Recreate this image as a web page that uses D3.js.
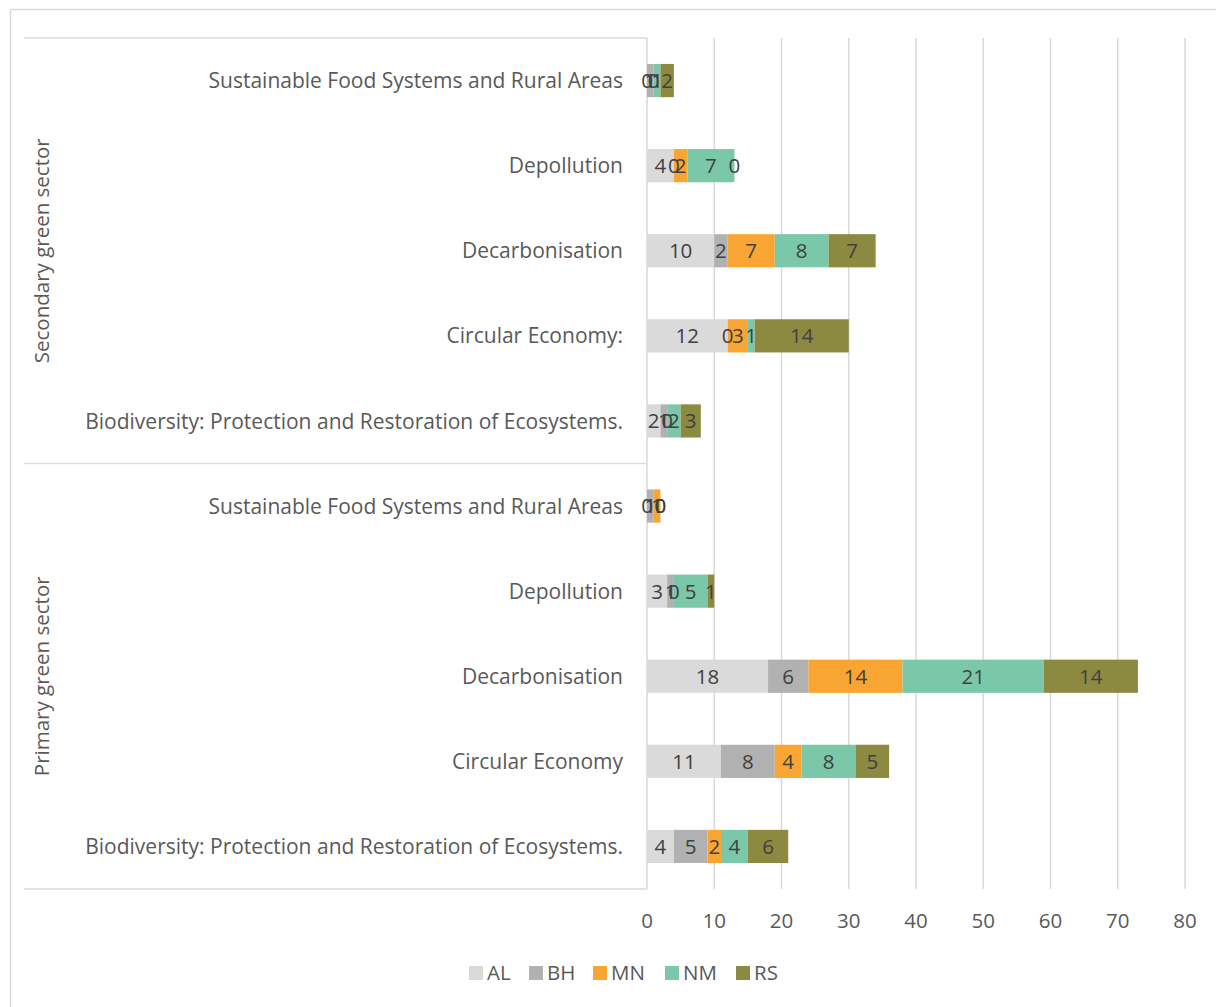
<!DOCTYPE html>
<html>
<head>
<meta charset="utf-8">
<script src="https://cdn.jsdelivr.net/npm/d3@7"></script>
<style>
  html, body { margin: 0; padding: 0; background: #ffffff; }
  svg { display: block; }
  text { font-family: "Open Sans", "Noto Sans", sans-serif; }
</style>
</head>
<body>
<svg id="chart" width="1216" height="1007"></svg>
<script>
// Sector groups and the categories inside each (top to bottom)
const groups = ["Secondary green sector", "Primary green sector"];
const categories = [
  "Sustainable Food Systems and Rural Areas",
  "Depollution",
  "Decarbonisation",
  "Circular Economy:",
  "Biodiversity: Protection and Restoration of Ecosystems.",
  "Sustainable Food Systems and Rural Areas",
  "Depollution",
  "Decarbonisation",
  "Circular Economy",
  "Biodiversity: Protection and Restoration of Ecosystems."
];
const categoryGroup = [0, 0, 0, 0, 0, 1, 1, 1, 1, 1];

// Series (countries) and their counts per category
const seriesNames = ["AL", "BH", "MN", "NM", "RS"];
const AL = [0, 4, 10, 12, 2, 0, 3, 18, 11, 4];
const BH = [1, 0, 2, 0, 1, 1, 1, 6, 8, 5];
const MN = [0, 2, 7, 3, 0, 1, 0, 14, 4, 2];
const NM = [1, 7, 8, 1, 2, 0, 5, 21, 8, 4];
const RS = [2, 0, 7, 14, 3, 0, 1, 14, 5, 6];
const seriesValues = [AL, BH, MN, NM, RS];
const seriesColors = ["#dadada", "#b1b1b1", "#f9a533", "#7ac8a9", "#8c8a40"];

const xTicks = [0, 10, 20, 30, 40, 50, 60, 70, 80];

const svg = d3.select("#chart");
const gridColor = "#d9d9d9";
const labelSize = 20.5;
const categorySize = 21;

// Outer chart frame
svg.append("rect")
  .attr("x", 10.5).attr("y", 9.5)
  .attr("width", 1216).attr("height", 1100)
  .attr("fill", "#ffffff")
  .attr("stroke", gridColor).attr("stroke-width", 1.5);

const x = d3.scaleLinear().domain([0, 80]).range([647, 1185]);
const y = d3.scaleBand()
  .domain(d3.range(categories.length))
  .range([38, 889])
  .paddingInner(0.61)
  .paddingOuter(0.305);

const plotTop = 38, plotBottom = 889;

// Vertical gridlines
svg.append("g")
  .selectAll("line")
  .data(xTicks.filter(t => t > 0))
  .join("line")
  .attr("x1", d => x(d)).attr("x2", d => x(d))
  .attr("y1", plotTop).attr("y2", plotBottom)
  .attr("stroke", gridColor).attr("stroke-width", 1.5);

// Category axis frame: axis line and group separators
svg.append("line")
  .attr("x1", x(0)).attr("x2", x(0))
  .attr("y1", plotTop).attr("y2", plotBottom)
  .attr("stroke", gridColor).attr("stroke-width", 1.5);
[plotTop, (plotTop + plotBottom) / 2, plotBottom].forEach(yy => {
  svg.append("line")
    .attr("x1", 24).attr("x2", x(0))
    .attr("y1", yy).attr("y2", yy)
    .attr("stroke", gridColor).attr("stroke-width", 1.5);
});

// Stack the series
const table = categories.map((c, i) => {
  const row = { idx: i };
  seriesNames.forEach((s, k) => { row[s] = seriesValues[k][i]; });
  return row;
});
const stacked = d3.stack().keys(seriesNames)(table);

const layers = svg.append("g")
  .selectAll("g")
  .data(stacked)
  .join("g")
  .attr("fill", (d, k) => seriesColors[k]);

layers.selectAll("rect")
  .data(d => d)
  .join("rect")
  .attr("x", d => x(d[0]))
  .attr("width", d => x(d[1]) - x(d[0]))
  .attr("y", d => y(d.data.idx))
  .attr("height", y.bandwidth());

// Value labels centred on each segment
const labelLayers = svg.append("g")
  .selectAll("g")
  .data(stacked)
  .join("g");
labelLayers.selectAll("text")
  .data(d => d.map(p => ({ p, key: d.key })))
  .join("text")
  .attr("x", d => x((d.p[0] + d.p[1]) / 2))
  .attr("y", d => y(d.p.data.idx) + y.bandwidth() / 2)
  .attr("dy", "0.36em")
  .attr("text-anchor", "middle")
  .attr("font-size", labelSize)
  .attr("fill", "#404040")
  .text(d => d.p.data[d.key]);

// Category labels
svg.append("g")
  .selectAll("text")
  .data(categories)
  .join("text")
  .attr("x", 623)
  .attr("y", (d, i) => y(i) + y.bandwidth() / 2)
  .attr("dy", "0.36em")
  .attr("text-anchor", "end")
  .attr("font-size", categorySize)
  .attr("fill", "#595959")
  .text(d => d);

// Group labels (rotated)
groups.forEach((g, gi) => {
  const idx = categoryGroup.map((v, i) => v === gi ? i : -1).filter(i => i >= 0);
  const top = y(idx[0]) - y.step() * y.paddingInner() / 2;
  const bottom = y(idx[idx.length - 1]) + y.bandwidth() + y.step() * y.paddingInner() / 2;
  const cy = (top + bottom) / 2;
  svg.append("text")
    .attr("transform", `translate(42,${cy}) rotate(-90)`)
    .attr("dy", "0.36em")
    .attr("text-anchor", "middle")
    .attr("font-size", labelSize)
    .attr("fill", "#595959")
    .text(g);
});

// Value axis tick labels
svg.append("g")
  .selectAll("text")
  .data(xTicks)
  .join("text")
  .attr("x", d => x(d))
  .attr("y", 921)
  .attr("dy", "0.36em")
  .attr("text-anchor", "middle")
  .attr("font-size", labelSize)
  .attr("fill", "#595959")
  .text(d => d);

// Legend
const legendX = [469, 529, 593, 665, 736];
const legend = svg.append("g")
  .selectAll("g")
  .data(seriesNames)
  .join("g")
  .attr("transform", (d, i) => `translate(${legendX[i]},973)`);
legend.append("rect")
  .attr("x", 0).attr("y", -7)
  .attr("width", 14).attr("height", 14)
  .attr("fill", (d, i) => seriesColors[i]);
legend.append("text")
  .attr("x", 18).attr("y", 0)
  .attr("dy", "0.36em")
  .attr("font-size", labelSize)
  .attr("fill", "#595959")
  .text(d => d);
</script>
</body>
</html>
